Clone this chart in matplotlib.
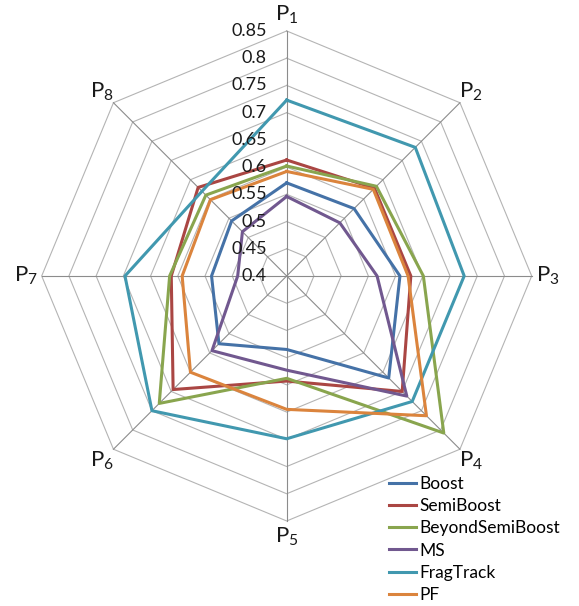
import numpy as np
import matplotlib
matplotlib.use("Agg")
import matplotlib.pyplot as plt

plt.rcParams['font.family'] = ['Lato', 'DejaVu Sans']
plt.rcParams['mathtext.fontset'] = 'custom'
plt.rcParams['mathtext.rm'] = 'Lato'
plt.rcParams['mathtext.it'] = 'Lato'
plt.rcParams['mathtext.bf'] = 'Lato'

categories = ["P$_1$", "P$_2$", "P$_3$", "P$_4$", "P$_5$", "P$_6$", "P$_7$", "P$_8$"]
boost = [0.571, 0.575, 0.608, 0.665, 0.535, 0.576, 0.538, 0.543]
semiboost = [0.613, 0.628, 0.628, 0.700, 0.593, 0.695, 0.612, 0.630]
beyond = [0.602, 0.633, 0.651, 0.808, 0.588, 0.731, 0.615, 0.610]
ms = [0.546, 0.538, 0.566, 0.712, 0.573, 0.594, 0.490, 0.515]
fragtrack = [0.723, 0.734, 0.726, 0.726, 0.699, 0.750, 0.697, 0.620]
pf = [0.592, 0.625, 0.623, 0.763, 0.645, 0.650, 0.592, 0.598]
series_names = ["Boost", "SemiBoost", "BeyondSemiBoost", "MS", "FragTrack", "PF"]
ring_values = [0.45, 0.5, 0.55, 0.6, 0.65, 0.7, 0.75, 0.8, 0.85]
tick_labels = ["0.4", "0.45", "0.5", "0.55", "0.6", "0.65", "0.7", "0.75", "0.8", "0.85"]
rmin, rmax = 0.4, 0.85

colors = ["#4572A7", "#AA4643", "#89A54E", "#71588F", "#4198AF", "#DB843D"]
series = [boost, semiboost, beyond, ms, fragtrack, pf]

fig = plt.figure(figsize=(5.79, 6.06), dpi=100)
ax = fig.add_axes([0.0720, 0.1403, 0.8463, 0.8086], projection='polar')
ax.set_theta_zero_location('N')
ax.set_theta_direction(-1)
ax.set_ylim(rmin, rmax)
ax.grid(False)
ax.spines['polar'].set_visible(False)
ax.set_xticks([])
ax.set_yticks([])
ax.patch.set_alpha(0)

n = len(categories)
angles = np.linspace(0, 2 * np.pi, n, endpoint=False)
ang_closed = np.concatenate([angles, angles[:1]])

for r in ring_values:
    ax.plot(ang_closed, [r] * (n + 1), color="#b4b4b4", lw=0.8, zorder=1, clip_on=False)
for a in angles:
    ax.plot([a, a], [rmin, rmax], color="#8c8c8c", lw=0.8, zorder=1, clip_on=False)

for vals, name, c in zip(series, series_names, colors):
    v = list(vals) + [vals[0]]
    ax.plot(ang_closed, v, color=c, lw=2.2, label=name, zorder=3, clip_on=False)

# radial tick labels
tick_vals = [rmin] + ring_values
for tv, tl in zip(tick_vals, tick_labels):
    ax.annotate(tl, xy=(0, tv), xytext=(-20, 0), textcoords='offset pixels',
                ha='right', va='center', fontsize=13, color='#1a1a1a', zorder=5)

# category labels
label_r = rmin + (245 + 16) / 245 * (rmax - rmin)
for a, lab in zip(angles, categories):
    ax.text(a, label_r, lab, ha='center', va='center', fontsize=16, color='#1a1a1a')

fig.legend(loc='upper left', bbox_to_anchor=(0.672, 0.214), frameon=False,
           fontsize=12.5, handlelength=1.55, handletextpad=0.2, labelspacing=0.35,
           borderpad=0, borderaxespad=0)

fig.savefig("out.png", dpi=100)
